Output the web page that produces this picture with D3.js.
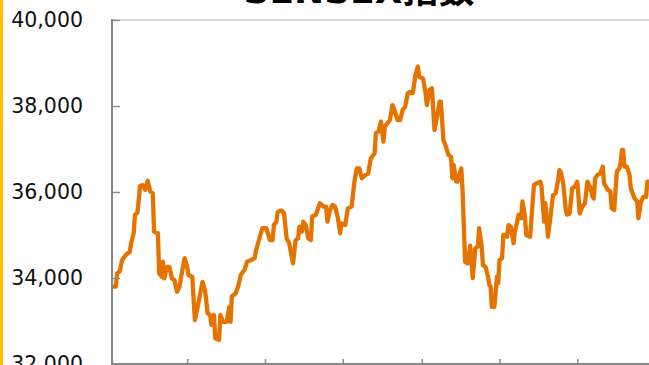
<!DOCTYPE html>
<html>
<head>
<meta charset="utf-8">
<script src="https://cdn.jsdelivr.net/npm/d3@7"></script>
<style>
  html, body { margin: 0; padding: 0; background: #fff; overflow: hidden; }
  svg { display: block; }
</style>
</head>
<body>
<div id="chart"></div>
<script>
const chart_width = 649;
const chart_height = 365;

// days counted from 2018-01-01
const dayOffsets = [
  1, 3, 4, 6, 8, 11, 14, 15, 17, 18, 20, 22, 24, 26, 28, 30, 32, 33, 36, 37,
  39, 40, 41, 43, 45, 47, 49, 51, 53, 54, 57, 59, 60, 63, 65, 67, 71, 73, 75, 77,
  78, 80, 81, 84, 85, 87, 90, 92, 93, 94, 97, 99, 101, 104, 106, 109, 112, 113, 116, 118,
  121, 124, 126, 127, 129, 130, 133, 135, 137, 139, 142, 144, 146, 147, 149, 150, 152, 154, 156, 157,
  160, 163, 166, 168, 169, 171, 173, 175, 177, 179, 180, 183, 185, 188, 190, 192, 194, 196, 199, 201,
  203, 206, 207, 209, 211, 213, 214, 218, 220, 222, 224, 226, 228, 230, 232, 234, 236, 238, 240, 241,
  244, 246, 247, 249, 251, 253, 255, 257, 258, 260, 262, 264, 266, 267, 268, 270, 271, 274, 275, 277,
  279, 281, 283, 285, 287, 288, 290, 291, 293, 295, 296, 297, 298, 300, 302, 303, 304, 306, 307, 309,
  310, 311, 313, 315, 316, 317, 319, 321, 322, 324, 325, 328, 329, 331, 333, 336, 337, 339, 340, 342,
  344, 346, 348, 350, 351, 352, 354, 356, 357, 359, 361, 363, 365, 367, 369, 371, 373, 375, 377, 378,
  379, 381, 383, 385, 386, 389, 391, 392, 394, 396, 398, 399, 400, 401, 402, 404, 406, 407, 410, 412,
  413, 415, 417, 419, 420, 423
];

const sensexValues = [
  33800, 33800, 34110, 34150, 34420, 34540, 34610, 34810, 35040, 35470, 35520, 36140, 36160, 36050, 36260, 36010, 35970, 35080, 35040, 34110,
  34030, 34380, 33990, 34260, 34260, 33990, 33950, 33680, 33800, 33990, 34460, 34260, 34070, 34030, 33020, 33300, 33910, 33720, 33180, 33140,
  32910, 33140, 32600, 32560, 33140, 32980, 32980, 33330, 32980, 33570, 33640, 33800, 34070, 34190, 34380, 34420, 34460, 34640, 34960, 35160,
  35160, 34880, 34880, 35230, 35310, 35540, 35570, 35500, 34920, 34810, 34340, 34880, 34920, 35190, 35080, 35310, 35230, 34920, 34880, 35430,
  35470, 35740, 35660, 35660, 35310, 35580, 35700, 35660, 35430, 35040, 35270, 35230, 35620, 35660, 36200, 36550, 36550, 36320, 36400, 36430,
  36780, 36900, 37370, 37400, 37640, 37170, 37520, 37670, 38020, 37870, 37670, 37670, 37910, 37980, 38300, 38330, 38300, 38720, 38920, 38680,
  38640, 38300, 38020, 38370, 38410, 37440, 37750, 38100, 38100, 37210, 37050, 36860, 36820, 36320, 36630, 36240, 36240, 36550, 36050, 34380,
  34340, 34750, 34000, 34690, 34730, 35160, 34730, 34300, 34260, 34030, 33840, 33800, 33330, 33330, 34030, 33880, 34420, 34460, 35000, 35000,
  34960, 35230, 35190, 34810, 35080, 35190, 35470, 35390, 35780, 35430, 35000, 34960, 35350, 36160, 36200, 36240, 36120, 35310, 35740, 34960,
  35430, 35930, 35970, 36280, 36510, 36470, 36200, 35580, 35470, 35500, 36090, 36120, 36240, 35500, 35660, 35740, 36240, 36120, 35890, 35850,
  36320, 36400, 36430, 36590, 36200, 36050, 36010, 35620, 35580, 36470, 36550, 36670, 36980, 36980, 36590, 36590, 36400, 36090, 35850, 35780,
  35390, 35780, 35890, 35890, 36240, 36240
];

const yTicks = [32000, 34000, 36000, 38000, 40000];
const chartTitle = "SENSEX指数";

const margin_left = 112;
const margin_top = 20;
const plot_bottom = 364;
const px_per_day = 1.2747;

const data = dayOffsets.map((d, i) => ({
  date: new Date(2018, 0, 1 + d),
  value: sensexValues[i]
}));

const svg = d3.select("#chart")
  .append("svg")
  .attr("width", chart_width)
  .attr("height", chart_height);

const startDate = new Date(2018, 0, 1);
const endDate = new Date(2019, 2, 1);
const spanDays = (endDate - startDate) / 864e5;

const x = d3.scaleTime()
  .domain([startDate, endDate])
  .range([margin_left, margin_left + spanDays * px_per_day]);

const y = d3.scaleLinear()
  .domain([32000, 40000])
  .range([plot_bottom, margin_top]);

// yellow strip at the left edge
svg.append("rect")
  .attr("x", 0).attr("y", 0)
  .attr("width", 3).attr("height", chart_height)
  .attr("fill", "#FFC000");

// plot top border
svg.append("line")
  .attr("x1", margin_left).attr("x2", chart_width)
  .attr("y1", y(40000)).attr("y2", y(40000))
  .attr("stroke", "#c8c8c8")
  .attr("stroke-width", 1.5);

// series
const line = d3.line()
  .x(d => x(d.date))
  .y(d => y(d.value));

svg.append("path")
  .datum(data)
  .attr("d", line)
  .attr("fill", "none")
  .attr("stroke", "#E47300")
  .attr("stroke-width", 4.3)
  .attr("stroke-linejoin", "round")
  .attr("stroke-linecap", "round");

// y axis: ticks point inward, labels on the left
const yAxis = svg.append("g")
  .attr("transform", `translate(${margin_left},0)`)
  .call(d3.axisRight(y).tickValues(yTicks).tickSize(8).tickFormat(""));

yAxis.select(".domain").remove();
yAxis.selectAll(".tick line").attr("stroke", "#8c8c8c").attr("stroke-width", 1.5);

svg.append("line")
  .attr("x1", margin_left).attr("x2", margin_left)
  .attr("y1", margin_top - 1).attr("y2", chart_height)
  .attr("stroke", "#868686")
  .attr("stroke-width", 2);

svg.append("g")
  .selectAll("text")
  .data(yTicks)
  .join("text")
  .attr("x", 83)
  .attr("y", d => y(d))
  .attr("dy", "0.36em")
  .attr("text-anchor", "end")
  .style("font-family", "'DejaVu Sans', Verdana, sans-serif")
  .style("font-size", "20.5px")
  .attr("fill", "#111")
  .text(d => d3.format(",")(d));

// x axis: bimonthly ticks, pointing up
const xAxis = svg.append("g")
  .attr("transform", `translate(0,${plot_bottom})`)
  .call(d3.axisTop(x).ticks(d3.timeMonth.every(2)).tickSize(5).tickFormat(""));

xAxis.select(".domain").remove();
xAxis.selectAll(".tick line").attr("stroke", "#8c8c8c").attr("stroke-width", 1.5);

svg.append("line")
  .attr("x1", margin_left - 1).attr("x2", chart_width)
  .attr("y1", plot_bottom).attr("y2", plot_bottom)
  .attr("stroke", "#868686")
  .attr("stroke-width", 2);

// title, mostly cut off at the top
svg.append("text")
  .attr("x", 359)
  .attr("y", 3)
  .attr("text-anchor", "middle")
  .style("font-family", "'DejaVu Sans', 'Noto Sans CJK JP', sans-serif")
  .style("font-weight", "bold")
  .style("font-size", "36px")
  .attr("fill", "#000")
  .text(chartTitle);
</script>
</body>
</html>
